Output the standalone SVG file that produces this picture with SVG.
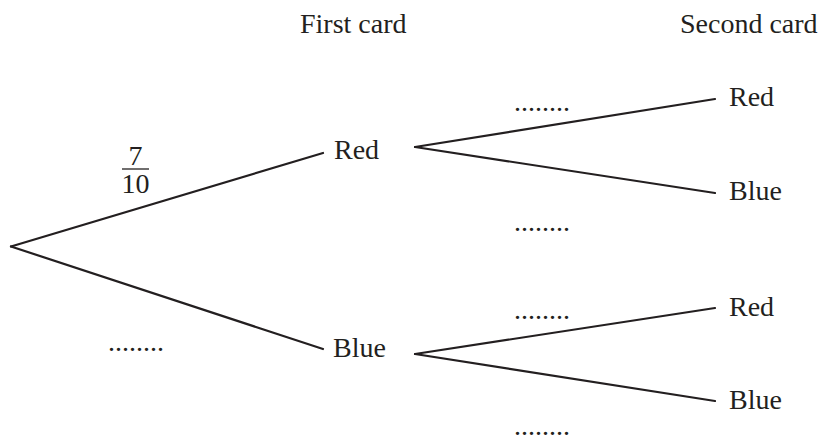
<svg xmlns="http://www.w3.org/2000/svg" width="826" height="440" viewBox="0 0 826 440">
<style>
text{font-family:"Liberation Serif","Times New Roman",serif;font-size:28px;fill:#231f20}
.ln{stroke:#231f20;stroke-width:2.2;fill:none;stroke-linecap:round}
</style>
<rect width="826" height="440" fill="#ffffff"/>
<g id="headers">
<text x="300" y="33">First card</text>
<text x="680" y="33">Second card</text>
</g>
<g id="connectors">
<line class="ln" x1="11" y1="246.5" x2="323" y2="153"/>
<line class="ln" x1="11" y1="246.5" x2="323" y2="349"/>
<line class="ln" x1="415" y1="147" x2="715" y2="99"/>
<line class="ln" x1="415" y1="147" x2="715" y2="193"/>
<line class="ln" x1="415" y1="354" x2="715" y2="308"/>
<line class="ln" x1="415" y1="354" x2="715" y2="401"/>
</g>
<g id="node-red1"><text x="334" y="159">Red</text></g>
<g id="node-blue1"><text x="333" y="357">Blue</text></g>
<g id="node-red-red"><text x="729" y="106">Red</text></g>
<g id="node-red-blue"><text x="729" y="200">Blue</text></g>
<g id="node-blue-red"><text x="729" y="316">Red</text></g>
<g id="node-blue-blue"><text x="729" y="409">Blue</text></g>
<g id="fraction">
<text x="135.5" y="164.5" text-anchor="middle">7</text>
<line x1="122" y1="169" x2="149" y2="169" stroke="#231f20" stroke-width="1.3"/>
<text x="135.5" y="193" text-anchor="middle">10</text>
</g>
<g id="blanks">
<text x="108" y="351" textLength="56">........</text>
<text x="514" y="111" textLength="56">........</text>
<text x="514" y="231" textLength="56">........</text>
<text x="514" y="319" textLength="56">........</text>
<text x="514" y="435" textLength="56">........</text>
</g>
</svg>
